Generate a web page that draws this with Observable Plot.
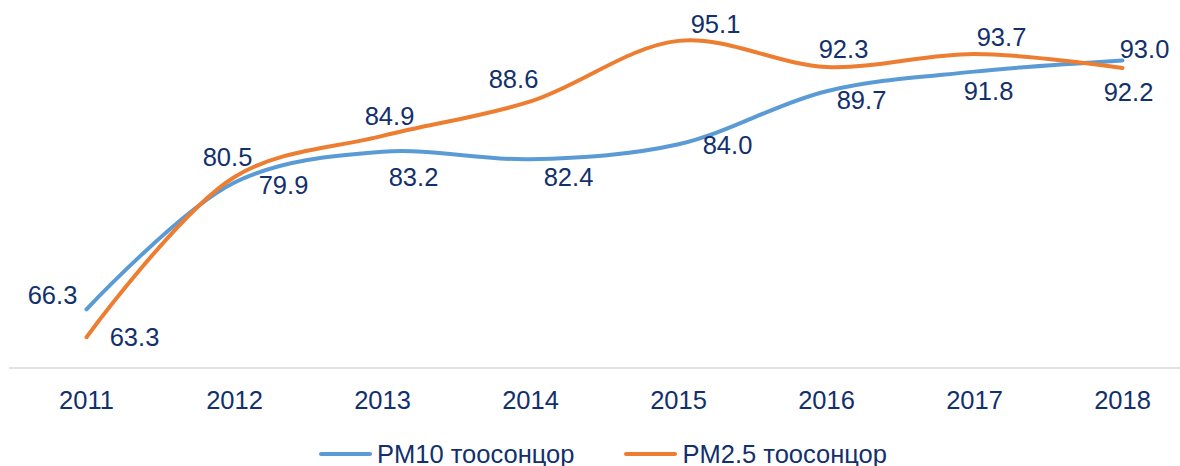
<!DOCTYPE html>
<html>
<head>
<meta charset="utf-8">
<script src="https://cdn.jsdelivr.net/npm/d3@7"></script>
<script src="https://cdn.jsdelivr.net/npm/@observablehq/plot@0.6"></script>
<style>
  html, body { margin: 0; padding: 0; background: #fff; }
  #chart svg { overflow: hidden; display: block; }
  .legend { display: flex; justify-content: flex-start; align-items: center; height: 30px; margin-top: 3px; padding-left: 319px;
    font-family: "Liberation Sans", Arial, sans-serif; font-size: 25.5px; color: #12306b; }
  .legend .item { display: flex; align-items: center; }
  .legend .sw { display: inline-block; width: 53px; height: 4px; border-radius: 2px; margin-right: 5px; }
  .legend .item + .item { margin-left: 50px; }
</style>
</head>
<body>
<div id="chart"></div>
<script>
const years = [2011, 2012, 2013, 2014, 2015, 2016, 2017, 2018];
const pm10 = [66.3, 79.9, 83.2, 82.4, 84.0, 89.7, 91.8, 93.0];
const pm25 = [63.3, 80.5, 84.9, 88.6, 95.1, 92.3, 93.7, 92.2];
const seriesNames = ["PM10 тоосонцор", "PM2.5 тоосонцор"];
const colors = ["#5b9bd5", "#ed7d31"];

// label offsets (dx, dy) in pixels, kept apart from the data
const offsets10 = [[-34,-13],[49,3],[31,26],[38,19],[49,2],[35,10],[14,20],[22,-11]];
const offsets25 = [[48,1],[-7,-19],[7,-19],[-17,-22],[37,-16],[17,-17],[27,-16],[6,25]];

const rows = [];
years.forEach((yr, i) => {
  rows.push({year: yr, value: pm10[i], series: seriesNames[0], off: offsets10[i]});
  rows.push({year: yr, value: pm25[i], series: seriesNames[1], off: offsets25[i]});
});

const textColor = "#12306b";
const fmt = d3.format(".1f");

const labelMarks = rows.map(d => Plot.text([d], {
  x: "year", y: "value", text: r => fmt(r.value),
  dx: d.off[0], dy: d.off[1],
  fill: textColor, fontSize: 25.5, fontFamily: "Liberation Sans, Arial, sans-serif"
}));

const chart = Plot.plot({
  width: 1180,
  height: 436,
  marginLeft: 9,
  marginRight: 0,
  marginTop: 0,
  marginBottom: 68.5,
  style: {fontFamily: "Liberation Sans, Arial, sans-serif", background: "#fff", overflow: "hidden"},
  x: {type: "point", domain: years, range: [8.6, 1199.4], label: null},
  y: {domain: [60, 100], range: [367.5, -5.3], axis: null},
  color: {domain: seriesNames, range: colors},
  marks: [
    Plot.ruleY([60], {stroke: "#d9d9d9", strokeWidth: 1.3}),
    Plot.axisX({tickSize: 0, tickPadding: 22.4, tickFormat: d => `${d}`, fontSize: 25.5, fill: textColor, label: null}),
    Plot.line(rows, {x: "year", y: "value", z: "series", stroke: "series", strokeWidth: 4, curve: "catmull-rom", strokeLinecap: "round"}),
    ...labelMarks
  ]
});
document.getElementById("chart").appendChild(chart);

const legend = document.createElement("div");
legend.className = "legend";
seriesNames.forEach((name, i) => {
  const item = document.createElement("div");
  item.className = "item";
  const sw = document.createElement("span");
  sw.className = "sw";
  sw.style.background = colors[i];
  const t = document.createElement("span");
  t.textContent = name;
  item.appendChild(sw);
  item.appendChild(t);
  legend.appendChild(item);
});
document.body.appendChild(legend);
</script>
</body>
</html>
